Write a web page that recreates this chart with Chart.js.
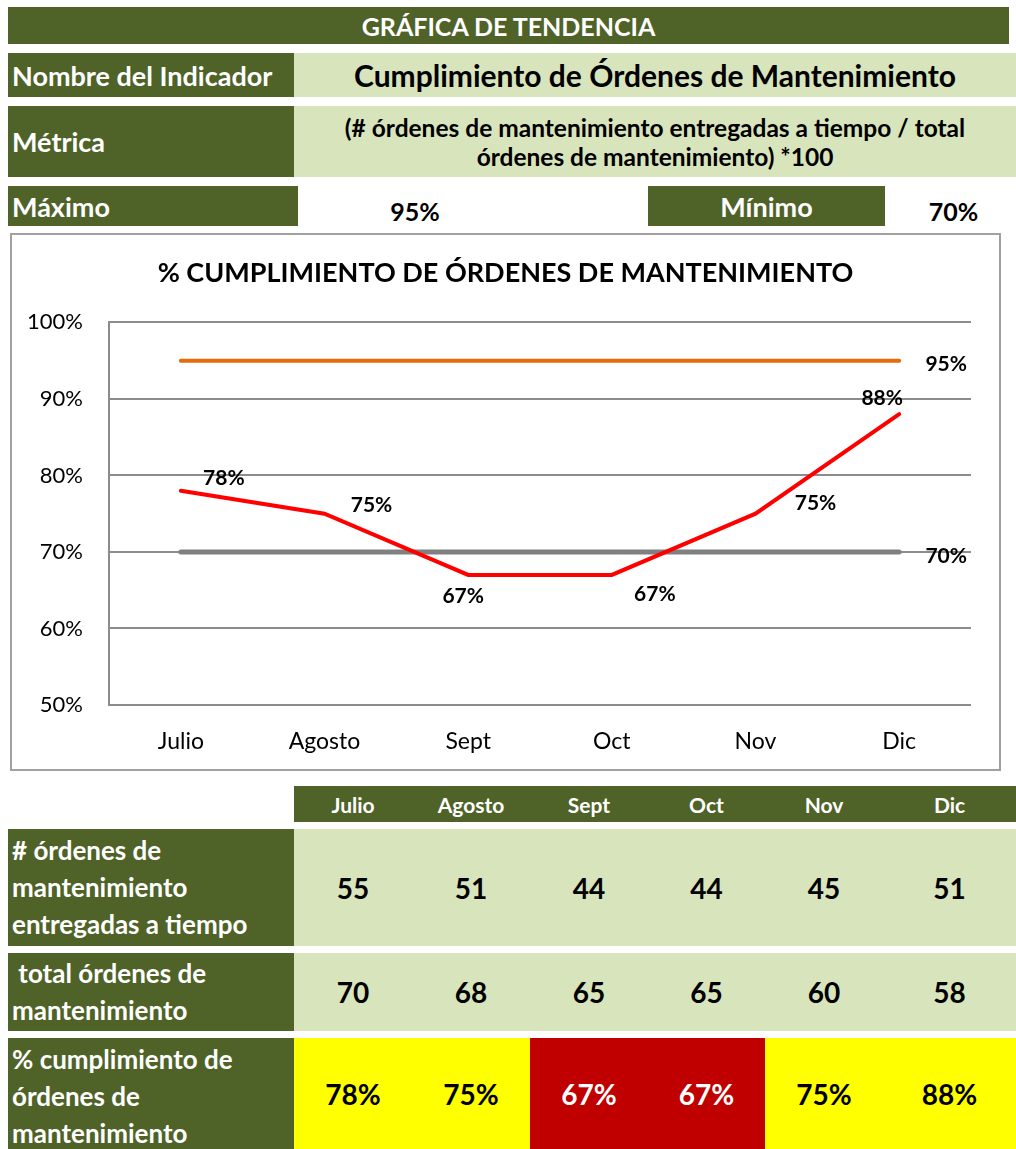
<!DOCTYPE html>
<html>
<head>
    <title>Gráfica de Tendencia</title>
    <meta charset="UTF-8">
    <style>
        body {
            margin: 0;
            font-family: Lato, "Open Sans", sans-serif;
            background: #fff;
            width: 1016px;
            height: 1149px;
            position: relative;
            overflow: hidden;
        }
        .cell {
            position: absolute;
            box-sizing: border-box;
            display: flex;
            align-items: center;
            font-weight: bold;
        }
        .dark { background: #4f6228; color: #fff; }
        .light { background: #d8e4bc; color: #000; }
        .center { justify-content: center; text-align: center; }
        #chartBox {
            position: absolute;
            left: 10px;
            top: 233px;
            width: 991px;
            height: 538px;
            border: 2px solid #a0a0a0;
            box-sizing: border-box;
        }
        .lbl { padding-left: 4px; font-size: 26px; line-height: 37px; white-space: nowrap; }
        .val { font-size: 28px; }
    </style>
    <script src="https://cdn.jsdelivr.net/npm/chart.js"></script>
</head>
<body>
    <div class="cell dark center" style="left:8px;top:7px;width:1001px;height:37px;font-size:25px;">GRÁFICA DE TENDENCIA</div>

    <div class="cell dark" style="left:8px;top:53px;width:286px;height:44px;font-size:27px;padding-left:4px;">Nombre del Indicador</div>
    <div class="cell light center" style="left:294px;top:53px;width:722px;height:44px;font-size:30px;">Cumplimiento de Órdenes de Mantenimiento</div>

    <div class="cell dark" style="left:8px;top:106px;width:286px;height:71px;font-size:27px;padding-left:4px;">Métrica</div>
    <div class="cell light center" style="left:294px;top:106px;width:722px;height:71px;font-size:24.5px;line-height:29px;">(# órdenes de mantenimiento entregadas a tiempo / total<br>órdenes de mantenimiento) *100</div>

    <div class="cell dark" style="left:8px;top:186px;width:290px;height:40px;font-size:27px;padding-left:4px;">Máximo</div>
    <div class="cell center" id="maxText" style="left:340px;top:191px;width:150px;height:40px;font-size:25px;"></div>
    <div class="cell dark center" style="left:648px;top:186px;width:237px;height:40px;font-size:27px;">Mínimo</div>
    <div class="cell center" id="minText" style="left:888px;top:191px;width:131px;height:40px;font-size:25px;"></div>

    <div id="chartBox"><canvas id="trendChart" width="987" height="534"></canvas></div>

    <div id="table"></div>

    <script>
        const months = ['Julio', 'Agosto', 'Sept', 'Oct', 'Nov', 'Dic'];
        const onTimeOrders = [55, 51, 44, 44, 45, 51];
        const totalOrders = [70, 68, 65, 65, 60, 58];
        const compliance = [78, 75, 67, 67, 75, 88];
        const maxLine = [95, 95, 95, 95, 95, 95];
        const minLine = [70, 70, 70, 70, 70, 70];
        const yTicks = [50, 60, 70, 80, 90, 100];
        const maxValue = 95;
        const minValue = 70;

        document.getElementById('maxText').textContent = maxValue + '%';
        document.getElementById('minText').textContent = minValue + '%';

        // tabla de abajo
        const colLeft = [294, 412, 530, 648, 765, 883, 1016];
        let html = '';
        months.forEach((m, i) => {
            const w = colLeft[i + 1] - colLeft[i];
            html += `<div class="cell dark center" style="left:${colLeft[i]}px;top:786px;width:${w}px;height:36px;font-size:21px;">${m}</div>`;
        });
        html += `<div class="cell dark" style="left:8px;top:829px;width:286px;height:117px;"><div class="lbl"># órdenes de<br>mantenimiento<br>entregadas a tiempo</div></div>`;
        html += `<div class="cell dark" style="left:8px;top:953px;width:286px;height:78px;"><div class="lbl">&nbsp;total órdenes de<br>mantenimiento</div></div>`;
        html += `<div class="cell dark" style="left:8px;top:1038px;width:286px;height:111px;align-items:flex-start;padding-top:3px;"><div class="lbl">% cumplimiento de<br>órdenes de<br>mantenimiento</div></div>`;
        months.forEach((m, i) => {
            const x = colLeft[i], w = colLeft[i + 1] - colLeft[i];
            html += `<div class="cell light center val" style="left:${x}px;top:829px;width:${w}px;height:117px;">${onTimeOrders[i]}</div>`;
            html += `<div class="cell light center val" style="left:${x}px;top:953px;width:${w}px;height:78px;">${totalOrders[i]}</div>`;
            const bad = compliance[i] < minValue;
            html += `<div class="cell center val" style="left:${x}px;top:1038px;width:${w}px;height:111px;background:${bad ? '#c00000' : '#ffff00'};color:${bad ? '#fff' : '#000'};">${compliance[i]}%</div>`;
        });
        document.getElementById('table').innerHTML = html;

        // etiquetas de datos
        const labelOffsets = [[43, -13], [47, -8], [-5, 21], [43, 19], [60, -10], [-17, -16]];
        const dataLabels = {
            id: 'dataLabels',
            afterLayout(chart) {
                // el título se centra en todo el recuadro
                if (chart.titleBlock) {
                    chart.titleBlock.left = 0;
                    chart.titleBlock.right = chart.width;
                }
            },
            afterDatasetsDraw(chart) {
                const ctx = chart.ctx;
                ctx.save();
                ctx.font = 'bold 21px Lato';
                ctx.fillStyle = '#000';
                ctx.textAlign = 'center';
                ctx.textBaseline = 'middle';
                chart.getDatasetMeta(0).data.forEach((pt, i) => {
                    const [dx, dy] = labelOffsets[i];
                    ctx.fillText(compliance[i] + '%', pt.x + dx, pt.y + dy);
                });
                [1, 2].forEach(d => {
                    const pts = chart.getDatasetMeta(d).data;
                    const last = pts[pts.length - 1];
                    const v = chart.data.datasets[d].data[pts.length - 1];
                    ctx.fillText(v + '%', last.x + 47, last.y + 4);
                });
                ctx.restore();
            }
        };

        const ctx = document.getElementById('trendChart').getContext('2d');
        const chart = new Chart(ctx, {
            type: 'line',
            data: {
                labels: months,
                datasets: [
                    { label: 'Cumplimiento', data: compliance, borderColor: '#ff0000', borderWidth: 4 },
                    { label: 'Máximo', data: maxLine, borderColor: '#e46c0a', borderWidth: 4 },
                    { label: 'Mínimo', data: minLine, borderColor: '#808080', borderWidth: 5 },
                ],
            },
            options: {
                responsive: false,
                animation: false,
                elements: {
                    point: { radius: 0 },
                    line: { tension: 0, borderCapStyle: 'round', borderJoinStyle: 'miter' },
                },
                layout: { padding: { left: 14, right: 28, bottom: 0 } },
                plugins: {
                    legend: { display: false },
                    tooltip: { enabled: false },
                    title: {
                        display: true,
                        text: '% CUMPLIMIENTO DE ÓRDENES DE MANTENIMIENTO',
                        color: '#000',
                        font: { family: 'Lato', size: 27, weight: 'bold' },
                        padding: { top: 22, bottom: 33 },
                    },
                },
                scales: {
                    x: {
                        offset: true,
                        grid: { display: false, drawTicks: false },
                        border: { display: false },
                        ticks: { color: '#000', font: { family: 'Lato', size: 23 }, padding: 23 },
                        afterFit(s) { s.height = 64; },
                    },
                    y: {
                        min: 50,
                        max: 100,
                        afterBuildTicks(s) { s.ticks = yTicks.map(v => ({ value: v })); },
                        grid: { color: '#8c8c8c', lineWidth: 2, drawTicks: false },
                        border: { display: true, color: '#8c8c8c', width: 2 },
                        ticks: {
                            color: '#000',
                            font: { family: 'Lato', size: 22 },
                            padding: 26,
                            callback: v => v + '%',
                        },
                        afterFit(s) { s.width = 83; },
                    },
                },
            },
            plugins: [dataLabels],
        });
    </script>
</body>
</html>
